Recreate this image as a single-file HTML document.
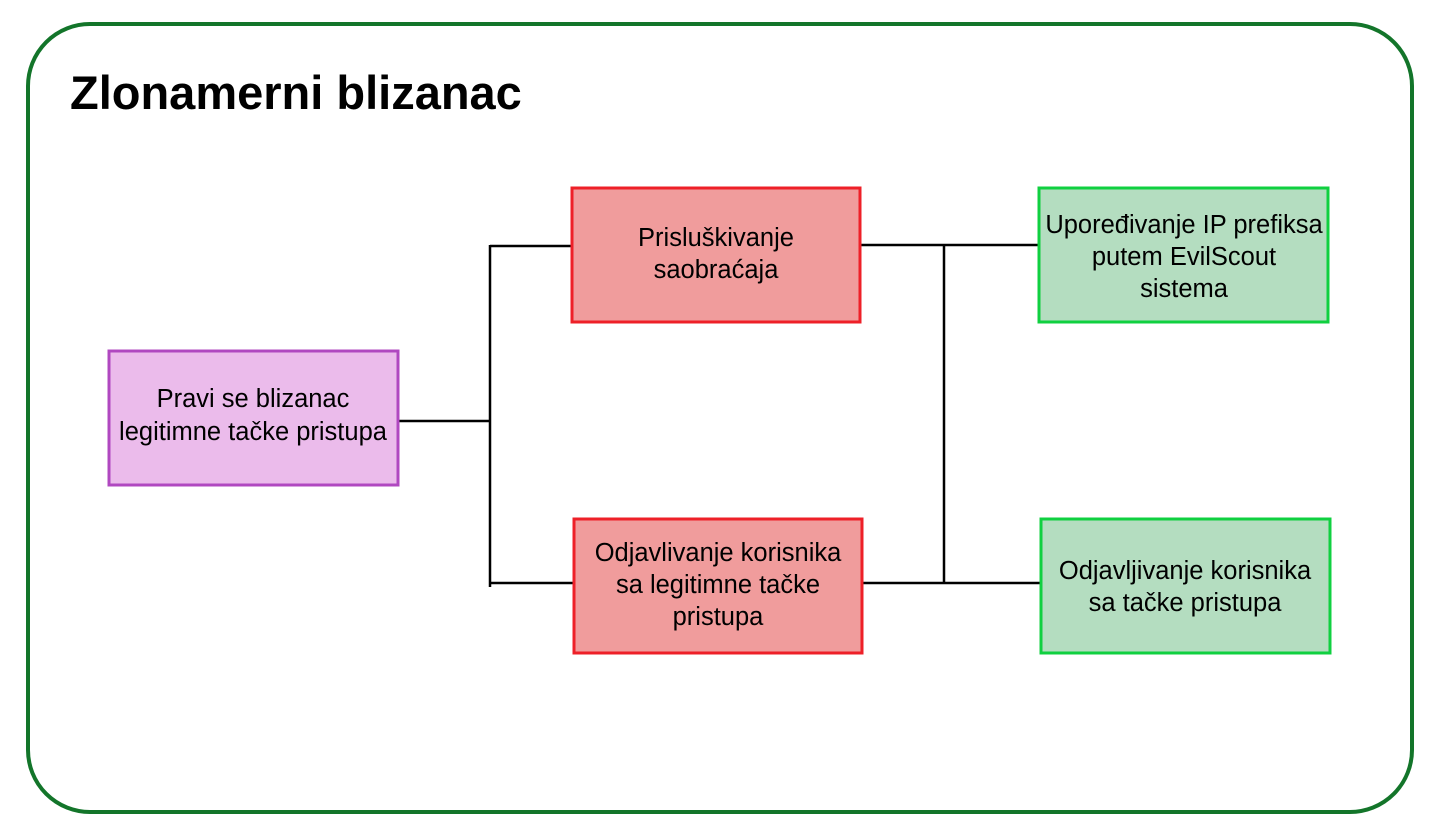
<!DOCTYPE html>
<html><head><meta charset="utf-8"><style>
body{margin:0;width:1435px;height:834px;background:#fff;overflow:hidden}
svg text{font-family:"Liberation Sans",sans-serif}
</style></head><body>
<svg width="1435" height="834" viewBox="0 0 1435 834">
<rect x="28" y="24" width="1384" height="788" rx="62" fill="#fff" stroke="#13752a" stroke-width="4"/>
<text x="70" y="109" font-size="47" font-weight="bold" fill="#000">Zlonamerni blizanac</text>
<g stroke="#000" stroke-width="2.5" fill="none">
<path d="M399 421H490M490 245V587M490 246H571M490 583H573"/>
<path d="M861 245H1038M863 583H1040M944 245V583"/>
</g>
<rect x="109" y="351" width="289" height="134" fill="#ebbbeb" stroke="#b048c0" stroke-width="3"/>
<rect x="572" y="188" width="288" height="134" fill="#f09c9c" stroke="#ee2028" stroke-width="3"/>
<rect x="574" y="519" width="288" height="134" fill="#f09c9c" stroke="#ee2028" stroke-width="3"/>
<rect x="1039" y="188" width="289" height="134" fill="#b4ddc0" stroke="#10d040" stroke-width="3"/>
<rect x="1041" y="519" width="289" height="134" fill="#b4ddc0" stroke="#10d040" stroke-width="3"/>
<g font-size="25.5" fill="#000" text-anchor="middle">
<text x="253" y="407">Pravi se blizanac</text>
<text x="253" y="440">legitimne tačke pristupa</text>
<text x="716" y="246">Prisluškivanje</text>
<text x="716" y="278">saobraćaja</text>
<text x="718" y="561">Odjavlivanje korisnika</text>
<text x="718" y="593">sa legitimne tačke</text>
<text x="718" y="625">pristupa</text>
<text x="1184" y="233">Upoređivanje IP prefiksa</text>
<text x="1184" y="265">putem EvilScout</text>
<text x="1184" y="297">sistema</text>
<text x="1185" y="579">Odjavljivanje korisnika</text>
<text x="1185" y="611">sa tačke pristupa</text>
</g>
</svg>
</body></html>
